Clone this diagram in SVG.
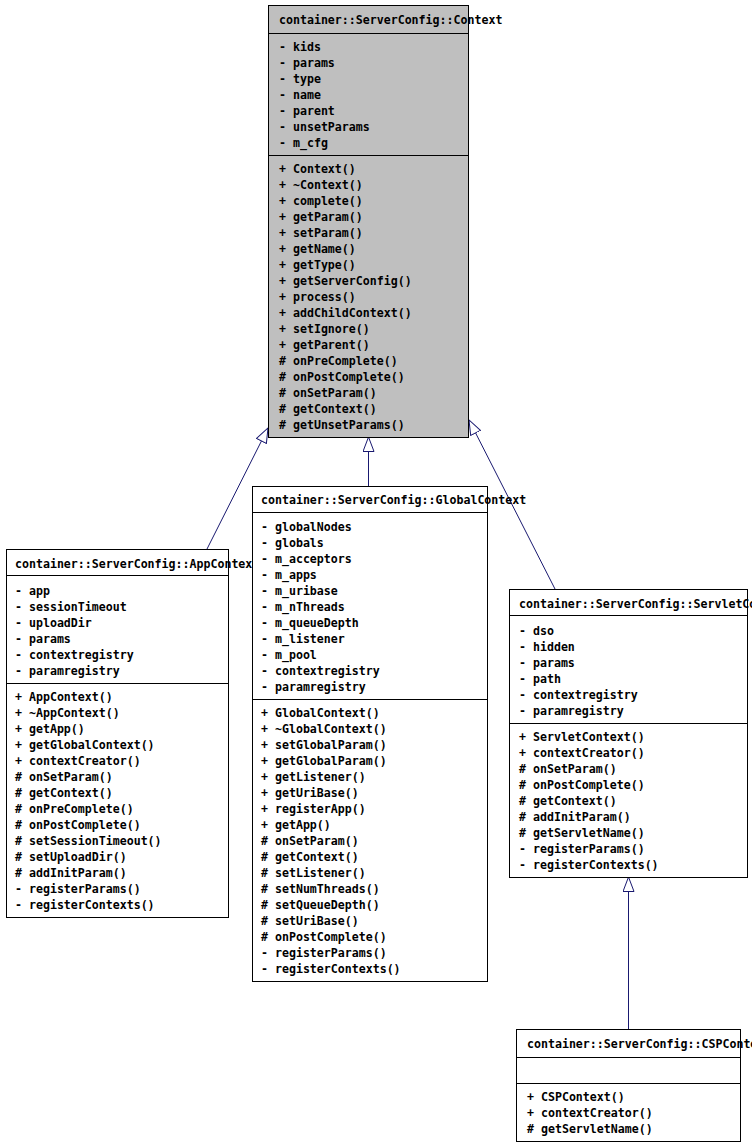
<svg xmlns="http://www.w3.org/2000/svg" width="752" height="1146" viewBox="0 0 752 1146">
<style>
text{font-family:"DejaVu Sans Mono","Liberation Mono",monospace;font-size:11.6px;font-weight:bold;fill:#000}
.box{fill:#fff;stroke:#000;stroke-width:1}
.base{fill:#bfbfbf;stroke:#000;stroke-width:1}
.sep{stroke:#000;stroke-width:1}
.edge{fill:none;stroke:#191970;stroke-width:1}
</style>
<defs>
<marker id="inh" markerUnits="userSpaceOnUse" markerWidth="18" markerHeight="14" refX="15" refY="6" orient="auto" viewBox="0 0 18 14">
<polygon points="0.5,0.5 15,6 0.5,11.5" fill="#fff" stroke="#191970" stroke-width="1"/>
</marker>
</defs>
<rect width="752" height="1146" fill="#fff"/>
<g id="edges">
<path class="edge" d="M207,549 L268,428" marker-end="url(#inh)"/>
<path class="edge" d="M368.5,486 L368.5,437" marker-end="url(#inh)"/>
<path class="edge" d="M555,589 L469,420" marker-end="url(#inh)"/>
<path class="edge" d="M628.5,1029 L628.5,877" marker-end="url(#inh)"/>
</g>
<g id="Context">
<rect class="base" x="268.5" y="5.5" width="200" height="432"/>
<line class="sep" x1="268.5" y1="33.5" x2="468.5" y2="33.5"/>
<line class="sep" x1="268.5" y1="155.5" x2="468.5" y2="155.5"/>
<text x="279" y="24">container::ServerConfig::Context</text>
<text x="279" y="51">- kids</text>
<text x="279" y="67">- params</text>
<text x="279" y="83">- type</text>
<text x="279" y="99">- name</text>
<text x="279" y="115">- parent</text>
<text x="279" y="131">- unsetParams</text>
<text x="279" y="147">- m_cfg</text>
<text x="279" y="173">+ Context()</text>
<text x="279" y="189">+ ~Context()</text>
<text x="279" y="205">+ complete()</text>
<text x="279" y="221">+ getParam()</text>
<text x="279" y="237">+ setParam()</text>
<text x="279" y="253">+ getName()</text>
<text x="279" y="269">+ getType()</text>
<text x="279" y="285">+ getServerConfig()</text>
<text x="279" y="301">+ process()</text>
<text x="279" y="317">+ addChildContext()</text>
<text x="279" y="333">+ setIgnore()</text>
<text x="279" y="349">+ getParent()</text>
<text x="279" y="365"># onPreComplete()</text>
<text x="279" y="381"># onPostComplete()</text>
<text x="279" y="397"># onSetParam()</text>
<text x="279" y="413"># getContext()</text>
<text x="279" y="429"># getUnsetParams()</text>
</g>
<g id="AppContext">
<rect class="box" x="6.5" y="549.5" width="222" height="368"/>
<line class="sep" x1="6.5" y1="575.5" x2="228.5" y2="575.5"/>
<line class="sep" x1="6.5" y1="683.5" x2="228.5" y2="683.5"/>
<text x="15" y="568">container::ServerConfig::AppContext</text>
<text x="15" y="595">- app</text>
<text x="15" y="611">- sessionTimeout</text>
<text x="15" y="627">- uploadDir</text>
<text x="15" y="643">- params</text>
<text x="15" y="659">- contextregistry</text>
<text x="15" y="675">- paramregistry</text>
<text x="15" y="701">+ AppContext()</text>
<text x="15" y="717">+ ~AppContext()</text>
<text x="15" y="733">+ getApp()</text>
<text x="15" y="749">+ getGlobalContext()</text>
<text x="15" y="765">+ contextCreator()</text>
<text x="15" y="781"># onSetParam()</text>
<text x="15" y="797"># getContext()</text>
<text x="15" y="813"># onPreComplete()</text>
<text x="15" y="829"># onPostComplete()</text>
<text x="15" y="845"># setSessionTimeout()</text>
<text x="15" y="861"># setUploadDir()</text>
<text x="15" y="877"># addInitParam()</text>
<text x="15" y="893">- registerParams()</text>
<text x="15" y="909">- registerContexts()</text>
</g>
<g id="GlobalContext">
<rect class="box" x="252.5" y="486.5" width="235" height="495"/>
<line class="sep" x1="252.5" y1="512.5" x2="487.5" y2="512.5"/>
<line class="sep" x1="252.5" y1="699.5" x2="487.5" y2="699.5"/>
<text x="261" y="504">container::ServerConfig::GlobalContext</text>
<text x="261" y="531">- globalNodes</text>
<text x="261" y="547">- globals</text>
<text x="261" y="563">- m_acceptors</text>
<text x="261" y="579">- m_apps</text>
<text x="261" y="595">- m_uribase</text>
<text x="261" y="611">- m_nThreads</text>
<text x="261" y="627">- m_queueDepth</text>
<text x="261" y="643">- m_listener</text>
<text x="261" y="659">- m_pool</text>
<text x="261" y="675">- contextregistry</text>
<text x="261" y="691">- paramregistry</text>
<text x="261" y="717">+ GlobalContext()</text>
<text x="261" y="733">+ ~GlobalContext()</text>
<text x="261" y="749">+ setGlobalParam()</text>
<text x="261" y="765">+ getGlobalParam()</text>
<text x="261" y="781">+ getListener()</text>
<text x="261" y="797">+ getUriBase()</text>
<text x="261" y="813">+ registerApp()</text>
<text x="261" y="829">+ getApp()</text>
<text x="261" y="845"># onSetParam()</text>
<text x="261" y="861"># getContext()</text>
<text x="261" y="877"># setListener()</text>
<text x="261" y="893"># setNumThreads()</text>
<text x="261" y="909"># setQueueDepth()</text>
<text x="261" y="925"># setUriBase()</text>
<text x="261" y="941"># onPostComplete()</text>
<text x="261" y="957">- registerParams()</text>
<text x="261" y="973">- registerContexts()</text>
</g>
<g id="ServletContext">
<rect class="box" x="509.5" y="589.5" width="238" height="288"/>
<line class="sep" x1="509.5" y1="615.5" x2="747.5" y2="615.5"/>
<line class="sep" x1="509.5" y1="723.5" x2="747.5" y2="723.5"/>
<text x="519" y="608">container::ServerConfig::ServletContext</text>
<text x="519" y="635">- dso</text>
<text x="519" y="651">- hidden</text>
<text x="519" y="667">- params</text>
<text x="519" y="683">- path</text>
<text x="519" y="699">- contextregistry</text>
<text x="519" y="715">- paramregistry</text>
<text x="519" y="741">+ ServletContext()</text>
<text x="519" y="757">+ contextCreator()</text>
<text x="519" y="773"># onSetParam()</text>
<text x="519" y="789"># onPostComplete()</text>
<text x="519" y="805"># getContext()</text>
<text x="519" y="821"># addInitParam()</text>
<text x="519" y="837"># getServletName()</text>
<text x="519" y="853">- registerParams()</text>
<text x="519" y="869">- registerContexts()</text>
</g>
<g id="CSPContext">
<rect class="box" x="516.5" y="1029.5" width="224" height="112"/>
<line class="sep" x1="516.5" y1="1057.5" x2="740.5" y2="1057.5"/>
<line class="sep" x1="516.5" y1="1083.5" x2="740.5" y2="1083.5"/>
<text x="527" y="1048">container::ServerConfig::CSPContext</text>
<text x="527" y="1101">+ CSPContext()</text>
<text x="527" y="1117">+ contextCreator()</text>
<text x="527" y="1133"># getServletName()</text>
</g>
</svg>
